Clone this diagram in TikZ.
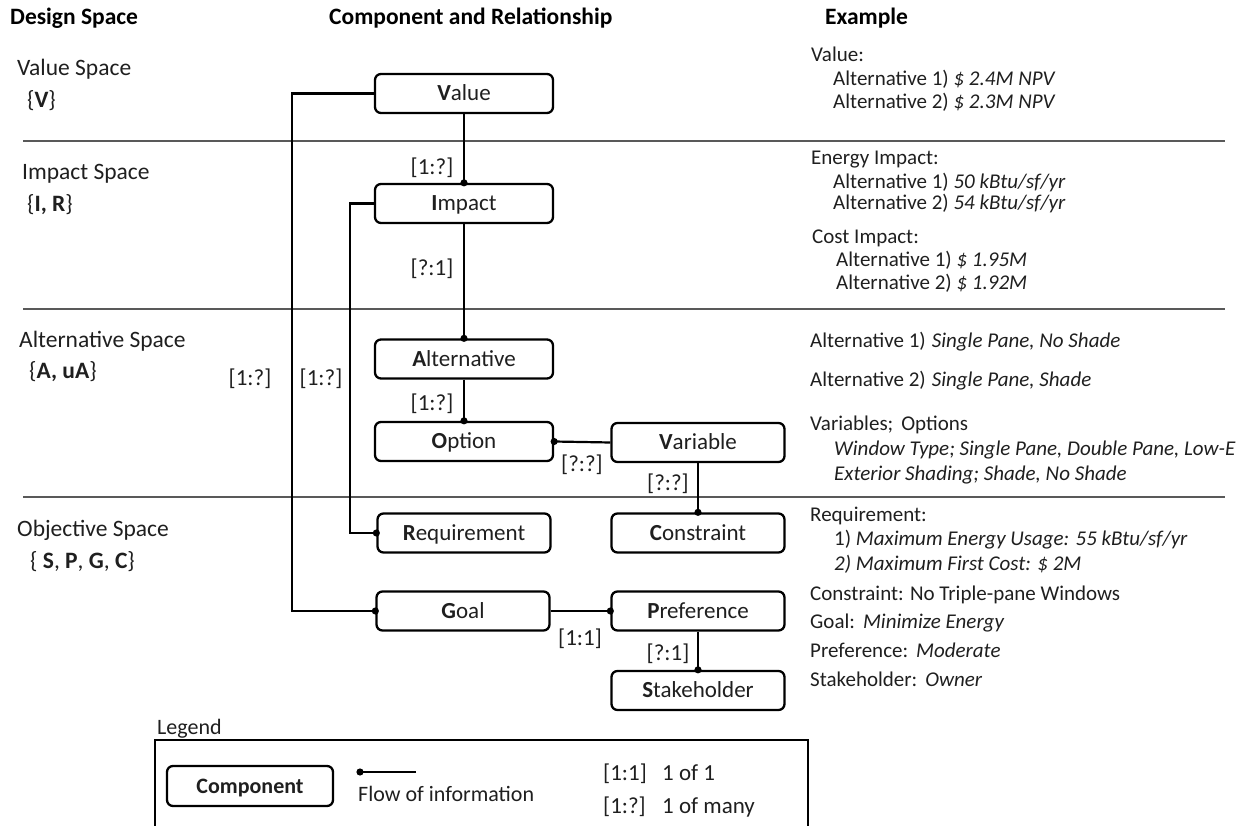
\documentclass[tikz,border=0pt]{standalone}
\usepackage{fontspec}
\setmainfont{Carlito}
\usetikzlibrary{arrows.meta}
\begin{document}
\begin{tikzpicture}[x=1pt,y=-1pt,
  every node/.style={font=\fontsize{21}{25}\selectfont, text=black!88},
  comp/.style={draw=black, line width=2.3pt, rounded corners=6pt, minimum height=39pt, inner sep=0pt, text height=14.5pt, text depth=0pt, font=\fontsize{23}{27}\selectfont},
  lcomp/.style={comp, minimum width=178pt},
  rcomp/.style={comp, minimum width=173pt},
  txt/.style={anchor=west, inner sep=0pt, text height=13.5pt, text depth=0pt},
  spc/.style={anchor=west, inner sep=0pt, text height=15pt, text depth=0pt, font=\fontsize{23.5}{28}\selectfont},
  rel/.style={inner sep=0pt, text height=14.5pt, text depth=0pt, font=\fontsize{23}{27}\selectfont},
  leg/.style={txt, font=\fontsize{22}{26}\selectfont, text height=14pt},
  legr/.style={txt, font=\fontsize{23}{27}\selectfont, text height=14.5pt},
  head/.style={anchor=west, inner sep=0pt, text height=15pt, text depth=0pt, font=\fontsize{23.5}{28}\selectfont\bfseries, text=black},
  flow/.style={line width=2.2pt, -{Circle[length=7pt]}, shorten >=-3.5pt},
  sep/.style={line width=1.7pt, draw=black!65}
]
\useasboundingbox (0,0) rectangle (1244,826);

% headers
\node[head] (h1) at (10,17) {Design Space};
\node[head] (h2) at (329,17) {Component and Relationship};
\node[head] (h3) at (825,17) {Example};

% separators
\draw[sep] (23,141) -- (1225,141);
\draw[sep] (23,309) -- (1225,309);
\draw[sep] (23,497) -- (1225,497);

% left labels
\node[spc] (s1) at (17,68) {Value Space};
\node[spc] (s1b) at (27,100) {\{\textbf{V}\}};
\node[spc] (s2) at (22,172) {Impact Space};
\node[spc] (s2b) at (27,204) {\{\textbf{I, R}\}};
\node[spc] (s3) at (19,340) {Alternative Space};
\node[spc] (s3b) at (29,371) {\{\textbf{A, uA}\}};
\node[spc] (s4) at (17,529) {Objective Space};
\node[spc] (s4b) at (30,561) {\{ \textbf{S}, \textbf{P}, \textbf{G}, \textbf{C}\}};

% components
\node[lcomp] (v) at (464,93.5) {\textbf{V}alue};
\node[lcomp] (i) at (464,203.5) {\textbf{I}mpact};
\node[lcomp] (a) at (464,359) {\textbf{A}lternative};
\node[lcomp] (o) at (464,441.5) {\textbf{O}ption};
\node[rcomp] (var) at (698,442.5) {\textbf{V}ariable};
\node[rcomp] (r) at (464,533) {\textbf{R}equirement};
\node[rcomp] (c) at (698,533) {\textbf{C}onstraint};
\node[rcomp] (g) at (463,611) {\textbf{G}oal};
\node[rcomp] (p) at (698,611) {\textbf{P}reference};
\node[rcomp] (st) at (698,690.5) {\textbf{S}takeholder};

% corner coordinates
\coordinate (k1) at (292,0);
\coordinate (k2) at (350,0);

% connectors
\draw[flow] (v.south) -- (i.north);
\draw[flow] (i.south) -- (a.north);
\draw[flow] (a.south) -- (o.north);
\draw[flow] (var.west) -- (o.east);
\draw[flow] (var.south) -- (c.north);
\draw[flow] (g.east) -- (p.west);
\draw[flow] (p.south) -- (st.north);
\draw[flow] (v.west) -- (v.west -| k1) |- (g.west);
\draw[flow] (i.west) -- (i.west -| k2) |- (r.west);

% relationship labels
\node[rel] (l1) at (432,167) {[1:?]};
\node[rel] (l2) at (432,268) {[?:1]};
\node[rel] (l3) at (432,403) {[1:?]};
\node[rel] (l4) at (582,464) {[?:?]};
\node[rel] (l5) at (668,483) {[?:?]};
\node[rel] (l6) at (580,638) {[1:1]};
\node[rel] (l7) at (668,653) {[?:1]};
\node[rel] (l8) at (250,378) {[1:?]};
\node[rel] (l9) at (321,378) {[1:?]};

% examples
\node[txt] (e1) at (811,55) {Value:};
\node[txt] (e2) at (833,79) {Alternative 1) \textit{\$ 2.4M NPV}};
\node[txt] (e3) at (833,102) {Alternative 2) \textit{\$ 2.3M NPV}};
\node[txt] (e4) at (811,158) {Energy Impact:};
\node[txt] (e5) at (833,182) {Alternative 1) \textit{50 kBtu/sf/yr}};
\node[txt] (e6) at (833,203) {Alternative 2) \textit{54 kBtu/sf/yr}};
\node[txt] (e7) at (812,237) {Cost Impact:};
\node[txt] (e8) at (836,260) {Alternative 1) \textit{\$ 1.95M}};
\node[txt] (e9) at (836,283) {Alternative 2) \textit{\$ 1.92M}};
\node[txt] (e10) at (810,341) {Alternative 1)\hspace{6pt}\textit{Single Pane, No Shade}};
\node[txt] (e11) at (810,380) {Alternative 2)\hspace{6pt}\textit{Single Pane, Shade}};
\node[txt] (e12) at (810,424) {Variables;\hspace{8pt}Options};
\node[txt] (e13) at (834,449) {\textit{Window Type; Single Pane, Double Pane, Low-E}};
\node[txt] (e14) at (834,474) {\textit{Exterior Shading; Shade, No Shade}};
\node[txt] (e15) at (810,515) {Requirement:};
\node[txt] (e16) at (834,539) {1) \textit{Maximum Energy Usage: 55 kBtu/sf/yr}};
\node[txt] (e17) at (834,564) {\textit{2) Maximum First Cost: \$ 2M}};
\node[txt] (e18) at (810,594) {Constraint: No Triple-pane Windows};
\node[txt] (e19) at (810,622) {Goal:\hspace{8pt}\textit{Minimize Energy}};
\node[txt] (e20) at (810,651) {Preference:\hspace{8pt}\textit{Moderate}};
\node[txt] (e21) at (810,680) {Stakeholder:\hspace{8pt}\textit{Owner}};

% legend
\node[leg] (lg) at (157,727) {Legend};
\draw[line width=2pt] (155,830) -- (155,740) -- (808,740) -- (808,830);
\node[comp, minimum width=166pt, minimum height=40pt, font=\fontsize{22}{26}\selectfont, text height=14pt] (lc) at (250,786) {\textbf{Component}};
\coordinate (f0) at (360,772);
\coordinate (f1) at (416,772);
\draw[flow] (f1) -- (f0);
\node[leg] (lf) at (358,794) {Flow of information};
\node[legr] (lr1) at (603,773) {[1:1]};
\node[legr] (lt1) at (662,773) {1 of 1};
\node[legr] (lr2) at (603,806) {[1:?]};
\node[legr] (lt2) at (662,806) {1 of many};
\end{tikzpicture}
\end{document}
